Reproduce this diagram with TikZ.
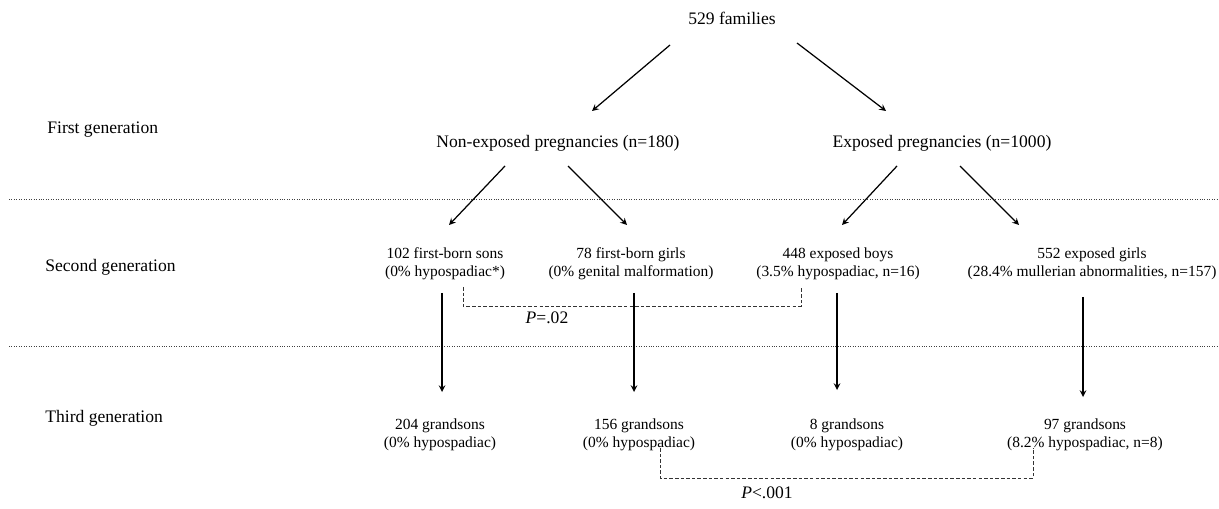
\documentclass[tikz,border=0pt]{standalone}
\usepackage{fontspec}
\setmainfont{Liberation Serif}
\usepackage{tikz}
\usetikzlibrary{calc}

\begin{document}
\begin{tikzpicture}[
    x=0.02cm, y=-0.02cm,
    big/.style={inner sep=0pt, align=center, font=\fontsize{10}{12}\selectfont},
    small/.style={inner sep=0pt, align=center, font=\fontsize{8.8}{10.1}\selectfont},
    genlabel/.style={inner sep=0pt, anchor=west, font=\fontsize{10}{12}\selectfont},
    arr/.style={->, >=stealth, line width=0.7pt},
    sep/.style={densely dotted, line width=0.4pt, black!75},
    dsh/.style={dash pattern=on 2pt off 1.2pt, line width=0.4pt, black!80}
]
\useasboundingbox (0,0) rectangle (1219,509);

% generation bands
\draw[sep] (9,199) -- (1219,199);
\draw[sep] (9,346) -- (1219,346);
\node[genlabel] (gen1) at (47,130) {First generation};
\node[genlabel] (gen2) at (45,267) {Second generation};
\node[genlabel] (gen3) at (45,418) {Third generation};

% first generation
\node[big] (fam) at (732,18) {529 families};
\node[big] (nonexp) at (558,143) {Non-exposed pregnancies (n=180)};
\node[big] (exp) at (942,143) {Exposed pregnancies (n=1000)};

% second generation
\node[small] (sons) at (445,264) {102 first-born sons\\(0\% hypospadiac*)};
\node[small] (girls) at (631,264) {78 first-born girls\\(0\% genital malformation)};
\node[small] (boys) at (838,264) {448 exposed boys\\(3.5\% hypospadiac, n=16)};
\node[small] (egirls) at (1092,264) {552 exposed girls\\(28.4\% mullerian abnormalities, n=157)};

% third generation
\node[small] (gs1) at (440,435) {204 grandsons\\(0\% hypospadiac)};
\node[small] (gs2) at (639,435) {156 grandsons\\(0\% hypospadiac)};
\node[small] (gs3) at (847,435) {8 grandsons\\(0\% hypospadiac)};
\node[small] (gs4) at (1085,435) {97 grandsons\\(8.2\% hypospadiac, n=8)};

\draw[arr] ($(fam)+(-62,27)$) -- ($(nonexp)+(34,-32)$);
\draw[arr] ($(fam)+(65,25)$) -- ($(exp)+(-56,-32)$);
\draw[arr] ($(nonexp)+(-53,23)$) -- ($(sons)+(4,-39)$);
\draw[arr] ($(nonexp)+(10,23)$) -- ($(girls)+(-4,-39)$);
\draw[arr] ($(exp)+(-45,23)$) -- ($(boys)+(4,-39)$);
\draw[arr] ($(exp)+(18,23)$) -- ($(egirls)+(-73,-39)$);

\draw[arr] ($(sons)+(-3,29)$) -- ($(gs1)+(2,-43)$);
\draw[arr] ($(girls)+(3,29)$) -- ($(gs2)+(-5,-43)$);
\draw[arr] ($(boys)+(-1,29)$) -- ($(gs3)+(-10,-45)$);
\draw[arr] ($(egirls)+(-9,33)$) -- ($(gs4)+(-2,-38)$);

% comparisons
\draw[dsh] ($(sons)+(18,23)$) -- ++(0,19) -| ($(boys)+(-37,23)$);
\node[big] (p1) at (547,318) {\textit{P}=.02};
\draw[dsh] ($(gs2)+(21,13)$) -- ++(0,30) -| ($(gs4)+(-52,13)$);
\node[big] (p2) at (767,493) {\textit{P}<.001};
\end{tikzpicture}
\end{document}
